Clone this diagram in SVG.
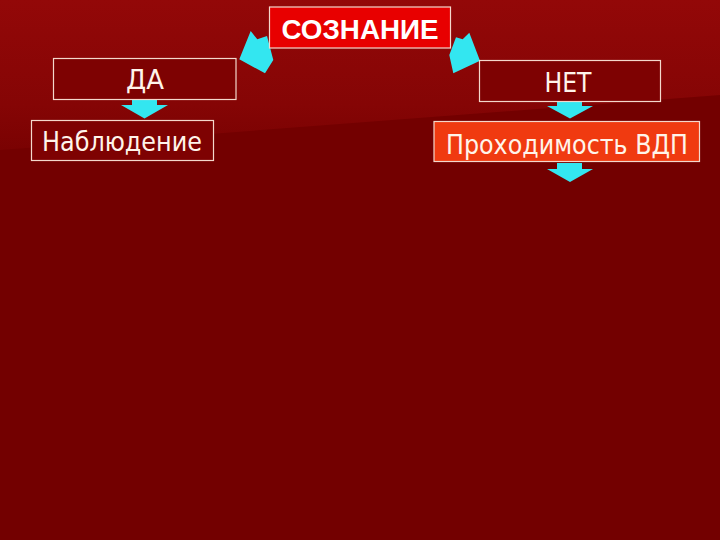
<svg xmlns="http://www.w3.org/2000/svg" width="720" height="540" viewBox="0 0 720 540">
  <defs>
    <linearGradient id="bgTop" x1="0" y1="0" x2="0" y2="1">
      <stop offset="0" stop-color="#930808"/>
      <stop offset="0.7" stop-color="#850505"/>
      <stop offset="1" stop-color="#7a0202"/>
    </linearGradient>
    <style>
      .box { stroke: #f4d8cc; stroke-width: 1.2; }
      .plain { fill: #7e0202; }
      .lbl { font-family: "DejaVu Sans Condensed", "DejaVu Sans", sans-serif; fill: #fff4ea; text-anchor: middle; }
      .title { font-family: "Liberation Sans", Arial, sans-serif; font-weight: bold; fill: #ffffff; text-anchor: middle; }
      .arrow { fill: #33e6f0; }
    </style>
  </defs>

  <rect x="0" y="0" width="720" height="540" fill="#730000"/>
  <polygon points="0,0 720,0 720,95 0,150" fill="url(#bgTop)"/>

  <g id="connectors">
    <polygon class="arrow" points="250.7,31 257.3,39.3 267,36 273.3,60 265,73.3 239.3,59.3"/>
    <polygon class="arrow" points="469.3,32.7 462.7,39.3 456,37.3 449.3,55 453.3,73.3 480,60.7"/>
    <polygon class="arrow" points="132,100 157,100 157,105 168,105 144.5,118.5 121,105 132,105"/>
    <polygon class="arrow" points="557,102 582,102 582,106 593,106 570,118.5 547,106 557,106"/>
    <polygon class="arrow" points="557,163 582,163 582,169 593,169 570,182 547,169 557,169"/>
  </g>

  <g id="node-soznanie">
    <rect class="box" x="269.5" y="7" width="181" height="41" fill="#e80000"/>
    <text class="title" x="360" y="38.5" font-size="28" textLength="157" lengthAdjust="spacingAndGlyphs">СОЗНАНИЕ</text>
  </g>

  <g id="node-da">
    <rect class="box plain" x="53.5" y="58.5" width="182.5" height="41"/>
    <text class="lbl" x="145" y="88.5" font-size="27" textLength="38" lengthAdjust="spacingAndGlyphs">ДА</text>
  </g>

  <g id="node-net">
    <rect class="box plain" x="479.5" y="60.5" width="181" height="41"/>
    <text class="lbl" x="568" y="91.5" font-size="27" textLength="47" lengthAdjust="spacingAndGlyphs">НЕТ</text>
  </g>

  <g id="node-nablyudenie">
    <rect class="box plain" x="31.5" y="120.5" width="182" height="40"/>
    <text class="lbl" x="122" y="150.5" font-size="27" textLength="160" lengthAdjust="spacingAndGlyphs">Наблюдение</text>
  </g>

  <g id="node-prohodimost">
    <rect class="box" x="434" y="121.5" width="265.5" height="40" fill="#f03a10"/>
    <text class="lbl" x="567" y="153.5" font-size="27" textLength="242" lengthAdjust="spacingAndGlyphs">Проходимость ВДП</text>
  </g>
</svg>
